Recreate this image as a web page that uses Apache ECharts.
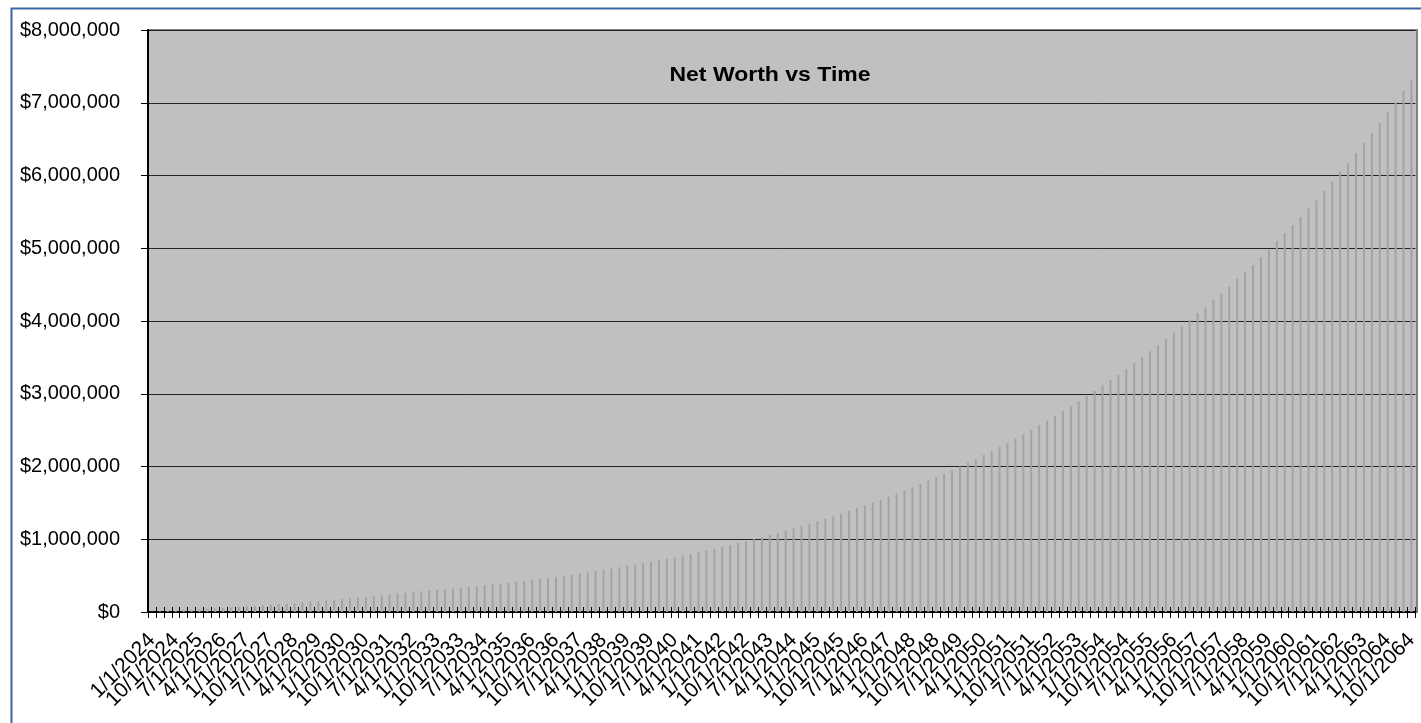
<!DOCTYPE html>
<html>
<head>
<meta charset="utf-8">
<title>Net Worth vs Time</title>
<script src="https://cdn.jsdelivr.net/npm/echarts@6/dist/echarts.min.js"></script>
<style>
  html, body { margin: 0; padding: 0; background: #ffffff; }
  #chart { width: 1421px; height: 723px; }
</style>
</head>
<body>
<div id="chart"></div>
<script>
// Quarterly dates as entered in the worksheet (no rows for 4/1/2060 through 1/1/2061)
const startYear = 2024;
const endYear = 2064;
const quarterMonths = [1, 4, 7, 10];
const skippedDates = ['4/1/2060', '7/1/2060', '10/1/2060', '1/1/2061'];
const quarterDates = [];
for (let y = startYear; y <= endYear; y++) {
  for (const m of quarterMonths) {
    const d = m + '/1/' + y;
    if (!skippedDates.includes(d)) quarterDates.push(d);
  }
}

// Net worth at each date, in thousands of dollars
const netWorthK = [
  3, 8, 13, 18, 24, 30, 36, 42, 48, 55,
  61, 68, 75, 83, 90, 98, 106, 114, 122, 131,
  140, 149, 158, 167, 177, 187, 197, 207, 218, 229,
  240, 252, 264, 276, 285, 295, 304, 314, 324, 334,
  345, 356, 367, 379, 391, 403, 415, 428, 442, 455,
  469, 484, 499, 514, 529, 545, 562, 579, 596, 614,
  633, 651, 671, 691, 711, 732, 753, 775, 798, 821,
  845, 869, 894, 919, 946, 973, 1000, 1028, 1057, 1087,
  1117, 1148, 1180, 1213, 1246, 1280, 1315, 1351, 1388, 1425,
  1464, 1503, 1543, 1585, 1627, 1670, 1714, 1759, 1805, 1852,
  1900, 1949, 2000, 2051, 2104, 2157, 2212, 2268, 2325, 2384,
  2443, 2504, 2566, 2630, 2695, 2761, 2829, 2897, 2968, 3039,
  3112, 3187, 3263, 3341, 3420, 3500, 3583, 3666, 3752, 3839,
  3927, 4018, 4110, 4190, 4290, 4380, 4470, 4580, 4670, 4770,
  4880, 4980, 5100, 5210, 5320, 5430, 5550, 5660, 5790, 5910,
  6050, 6170, 6310, 6450, 6580, 6720, 6870, 7010, 7160, 7310
];

const yTicks = [0, 1000000, 2000000, 3000000, 4000000, 5000000, 6000000, 7000000, 8000000];
const labelEvery = 3;

const netWorth = netWorthK.map(v => v * 1000);

const chart = echarts.init(document.getElementById('chart'), null, { renderer: 'canvas' });

const GRID = { left: 148, right: 4, top: 30, bottom: 111 };
const labelFont = 'Arial, "Liberation Sans", sans-serif';

chart.setOption({
  animation: false,
  backgroundColor: '#ffffff',
  graphic: [
    {
      type: 'rect',
      z: -1,
      shape: { x: 11.5, y: 8.5, width: 1430, height: 730 },
      style: { fill: '#ffffff', stroke: '#3C64A8', lineWidth: 2 }
    },
    {
      type: 'rect',
      z: 0,
      shape: { x: GRID.left, y: GRID.top, width: 1421 - GRID.left - GRID.right, height: 723 - GRID.top - GRID.bottom },
      style: { fill: '#C0C0C0', stroke: '#808080', lineWidth: 2 }
    },
    {
      type: 'text',
      z: 10,
      x: 770,
      y: 75,
      scaleX: 1.15,
      style: {
        text: 'Net Worth vs Time',
        fontFamily: labelFont,
        fontWeight: 'bold',
        fontSize: 20,
        fill: '#000000',
        textAlign: 'center',
        textVerticalAlign: 'middle'
      }
    }
  ],
  grid: GRID,
  xAxis: [
    {
      type: 'category',
      data: quarterDates,
      position: 'bottom',
      boundaryGap: true,
      axisLine: { show: true, lineStyle: { color: '#000000', width: 2 } },
      axisTick: { show: true, interval: 0, inside: false, length: 6, lineStyle: { color: '#000000', width: 1 } },
      axisLabel: {
        interval: 0,
        formatter: (value, idx) => (idx % labelEvery === 0 ? value : ''),
        rotate: 45,
        margin: 25,
        fontFamily: labelFont,
        fontSize: 21,
        color: '#000000'
      },
      splitLine: { show: false }
    },
    {
      type: 'category',
      data: quarterDates,
      position: 'bottom',
      boundaryGap: true,
      axisLine: { show: false },
      axisTick: { show: true, interval: 0, inside: true, length: 5, lineStyle: { color: '#000000', width: 1 } },
      axisLabel: { show: false },
      splitLine: { show: false }
    }
  ],
  yAxis: {
    type: 'value',
    min: yTicks[0],
    max: yTicks[yTicks.length - 1],
    interval: yTicks[1] - yTicks[0],
    axisLine: { show: true, lineStyle: { color: '#000000', width: 2 } },
    axisTick: { show: true, length: 7, lineStyle: { color: '#000000' } },
    axisLabel: {
      margin: 28,
      fontFamily: labelFont,
      fontSize: 20,
      color: '#000000',
      formatter: v => '$' + v.toLocaleString('en-US')
    },
    splitLine: { show: true, lineStyle: { color: '#222222', width: 1 } }
  },
  series: [
    {
      type: 'bar',
      name: 'Net Worth',
      xAxisIndex: 0,
      data: netWorth,
      barWidth: 2,
      itemStyle: { color: '#A3A3A3' }
    }
  ]
});
</script>
</body>
</html>
